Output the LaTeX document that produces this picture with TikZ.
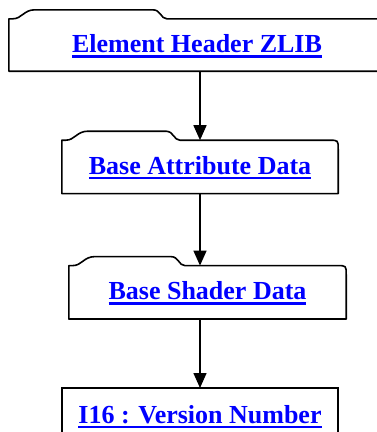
\documentclass[tikz,border=0pt]{standalone}
\usepackage{fontspec}
\setmainfont{Liberation Serif}
\usetikzlibrary{arrows.meta, positioning, calc}

% blue underlined link text
\newcommand\lnk[1]{\setbox0\hbox{#1}\rlap{\rule[-5pt]{\wd0}{2.6pt}}\box0}

\tikzset{
  folder/.style={draw=none, inner sep=0pt, text=blue, font=\fontsize{26}{30}\selectfont\bfseries,
                 text height=18pt, text depth=3pt},
  outline/.style={line width=1.6pt, line join=round},
  flow/.style={line width=1.5pt, -{Triangle[length=15pt, width=13pt]}}
}

% tab on top of a folder box: #1 node, #2 tab width
\newcommand\foldertab[2]{%
  \draw[outline] (#1.south west) -- (#1.north west) -- ++(4pt,0)
     .. controls +(9pt,0) and +(-11pt,0) .. ++(22pt,9pt)
     -- ++(#2-40pt,0)
     .. controls +(8pt,0) and +(-6pt,0) .. ($(#1.north west)+(#2,0)$)
     -- ($(#1.north east)+(-9pt,0)$)
     .. controls (#1.north east) .. ($(#1.north east)+(0,-9pt)$)
     -- (#1.south east) -- cycle;}

\begin{document}
\begin{tikzpicture}[x=1pt, y=-1pt, node distance=69pt]
  \useasboundingbox (0,0) rectangle (377,432);
  \coordinate (axis) at (200,0);

  \node[folder, minimum width=376pt, minimum height=52pt] (zlib) at (197,45) {\lnk{Element Header ZLIB}};
  \node[folder, minimum width=276pt, minimum height=53pt, below=69pt of zlib, xshift=3pt] (attr) {\lnk{Base Attribute Data}};
  \node[folder, minimum width=277pt, minimum height=53pt, below=72pt of attr, xshift=7.5pt] (shader) {\lnk{Base Shader Data}};
  \node[folder, minimum width=276pt, minimum height=55pt, below=69pt of shader, xshift=-7.5pt] (version) {\lnk{I16 : Version Number}};

  \foldertab{zlib}{158pt}
  \foldertab{attr}{118pt}
  \foldertab{shader}{116pt}
  \draw[line width=2.2pt] (version.south west) rectangle (version.north east);

  \draw[flow] (zlib.south -| axis) -- (attr.north -| axis);
  \draw[flow] (attr.south -| axis) -- (shader.north -| axis);
  \draw[flow] (shader.south -| axis) -- (version.north -| axis);
\end{tikzpicture}
\end{document}
